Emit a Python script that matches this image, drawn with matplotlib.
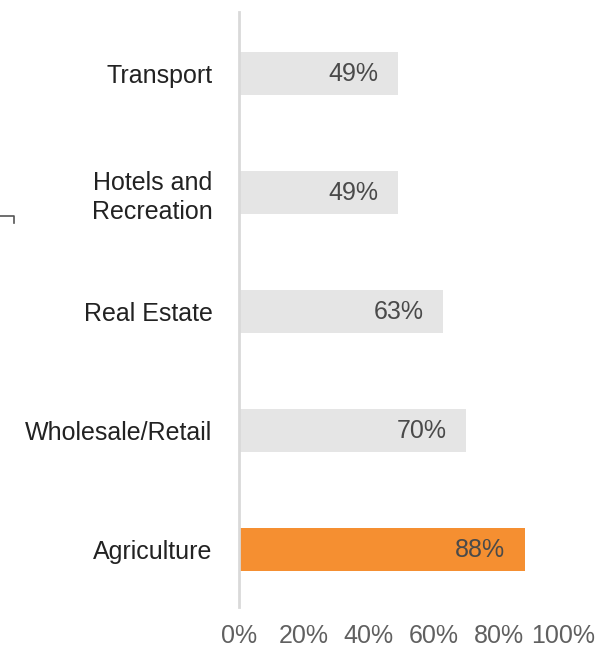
import matplotlib
matplotlib.use("Agg")
import matplotlib.pyplot as plt
from matplotlib.lines import Line2D

plt.rcParams['font.family'] = ['Liberation Sans', 'DejaVu Sans']

# data, top to bottom as in the chart
categories = ["Transport", "Hotels and\nRecreation", "Real Estate", "Wholesale/Retail", "Agriculture"]
shares = [49, 49, 63, 70, 88]
highlight = "Agriculture"
xticks = [0, 20, 40, 60, 80, 100]

fig = plt.figure(figsize=(6.08, 6.53), dpi=100)
ax = fig.add_axes([0.393, 0.0704, 0.534, 0.9112])

ypos = list(range(len(categories)))[::-1]
colors = ["#F58F31" if c == highlight else "#E5E5E5" for c in categories]
ax.barh(ypos, shares, height=0.36, color=colors, zorder=2)

for y, v in zip(ypos, shares):
    ax.text(v - 6, y, f"{v}%", ha="right", va="center", fontsize=18,
            color="#4a4a4a", zorder=3)

ax.set_xlim(0, 100)
ax.set_ylim(-0.48, 4.52)
ax.set_yticks(ypos)
ax.set_yticklabels(categories, fontsize=18, color="#222222", linespacing=1.25)
ax.set_xticks(xticks)
ax.set_xticklabels([f"{t}%" for t in xticks], fontsize=18, color="#606060")
ax.tick_params(axis="both", length=0)
ax.tick_params(axis="y", pad=19)
ax.tick_params(axis="x", pad=12)

for s in ["top", "right", "bottom"]:
    ax.spines[s].set_visible(False)
ax.spines["left"].set_color("#D9D9D9")
ax.spines["left"].set_linewidth(2)

# small bracket mark at the left edge
fig.add_artist(Line2D([0.0, 0.023, 0.023], [0.669, 0.669, 0.658],
                      transform=fig.transFigure, color="#555555", lw=1.2))

fig.savefig("out.png", dpi=100)
